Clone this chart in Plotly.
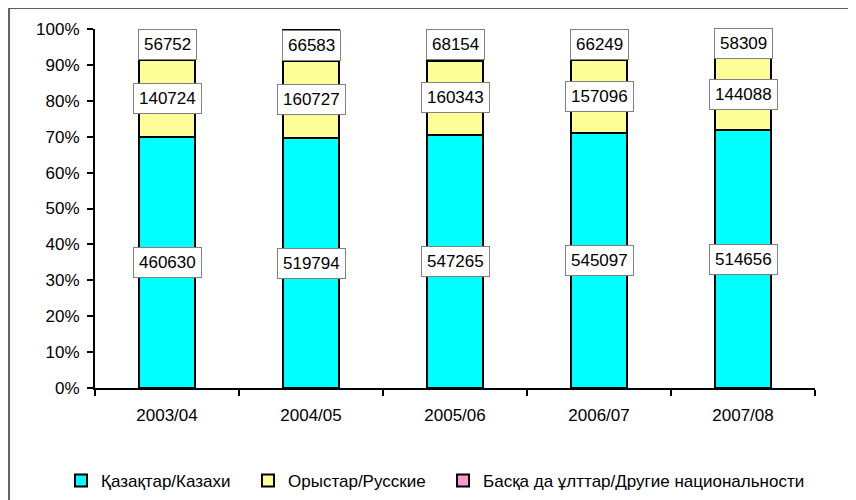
import plotly.graph_objects as go

years = ["2003/04", "2004/05", "2005/06", "2006/07", "2007/08"]
kazakhs = [460630, 519794, 547265, 545097, 514656]
russians = [140724, 160727, 160343, 157096, 144088]
others = [56752, 66583, 68154, 66249, 58309]

series_names = ["Қазақтар/Казахи", "Орыстар/Русские", "Басқа да ұлттар/Другие национальности"]
series_values = [kazakhs, russians, others]
colors = ["#00FFFF", "#FFFF99", "#FF99CC"]
legend_ids = ["legend", "legend2", "legend3"]

FONT = "Liberation Sans, Arial, sans-serif"
FS = 17

fig = go.Figure()
for name, vals, col, lid in zip(series_names, series_values, colors, legend_ids):
    fig.add_trace(go.Bar(
        x=years, y=vals, name=name, legend=lid,
        marker=dict(color=col, line=dict(color="black", width=2)),
        hoverinfo="skip",
    ))

# label annotations centred in each segment (percent coordinates)
totals = [sum(v[i] for v in series_values) for i in range(len(years))]
for i, yr in enumerate(years):
    cum = 0.0
    for vals in series_values:
        pct = vals[i] / totals[i] * 100
        fig.add_annotation(
            x=yr, y=cum + pct / 2, xref="x", yref="y",
            text=str(vals[i]), showarrow=False,
            font=dict(family=FONT, size=FS, color="black"),
            bgcolor="white", bordercolor="#808080", borderwidth=1, borderpad=5,
        )
        cum += pct

# outer frame (left and top edges visible)
fig.add_shape(type="line", xref="paper", yref="paper",
              x0=-0.1194, x1=1.2, y0=1.0585, y1=1.0585,
              line=dict(color="#606060", width=2))
fig.add_shape(type="line", xref="paper", yref="paper",
              x0=-0.1194, x1=-0.1194, y0=-0.5, y1=1.0585,
              line=dict(color="#606060", width=2))

def leg(x):
    return dict(orientation="h", x=x, xref="container", y=0.0386, yref="container",
                xanchor="left", yanchor="middle", bgcolor="rgba(0,0,0,0)",
                font=dict(family=FONT, size=FS), itemwidth=30)

fig.update_layout(
    barmode="stack", barnorm="percent", bargap=0.61,
    width=848, height=492,
    margin=dict(l=87, r=41, t=21, b=112, autoexpand=False),
    paper_bgcolor="white", plot_bgcolor="white",
    font=dict(family=FONT, size=FS, color="black"),
    showlegend=True,
    legend=leg(0.0625),
    legend2=leg(0.283),
    legend3=leg(0.513),
    xaxis=dict(showline=True, linecolor="black", linewidth=2, ticks="outside",
               tickson="boundaries", ticklen=6, tickwidth=2, tickcolor="black",
               showgrid=False, ticklabelstandoff=11),
    yaxis=dict(range=[0, 100], showline=True, linecolor="black", linewidth=2,
               ticks="outside", ticklen=6, tickwidth=2, tickcolor="black",
               tickvals=list(range(0, 101, 10)),
               ticktext=[f"{v}%" for v in range(0, 101, 10)],
               showgrid=False, zeroline=False, ticklabelstandoff=4),
)

fig.write_html("out.html")
